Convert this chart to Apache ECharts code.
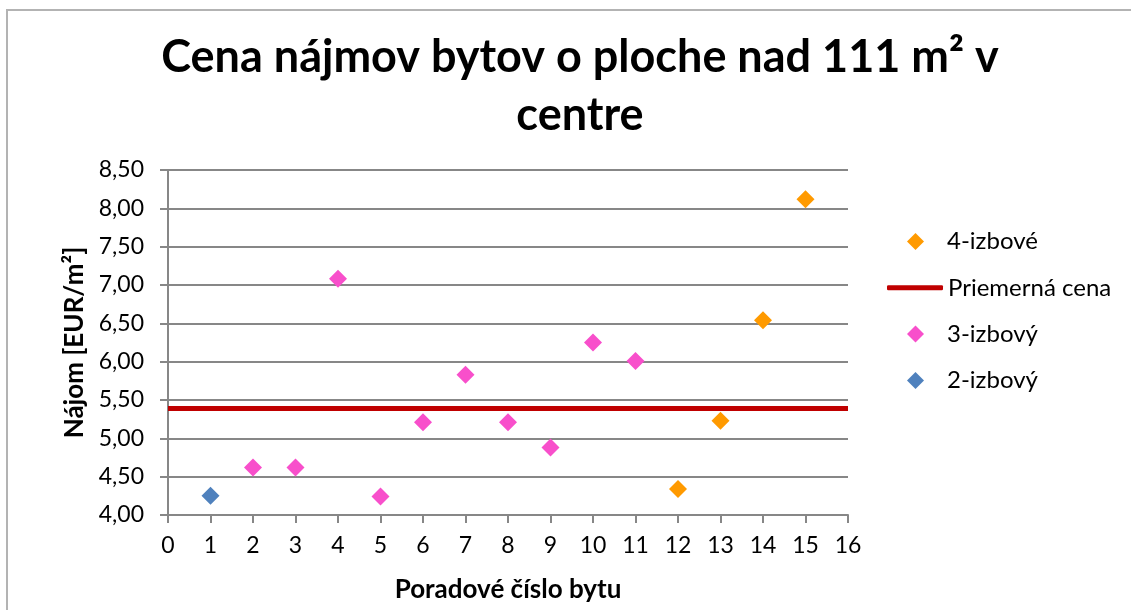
<!DOCTYPE html>
<html>
<head>
<meta charset="utf-8">
<title>Cena nájmov bytov</title>
<script src="https://cdn.jsdelivr.net/npm/echarts@6/dist/echarts.min.js"></script>
<style>
  html, body { margin: 0; padding: 0; background: #fff; }
  #chart { width: 1131px; height: 610px; }
</style>
</head>
<body>
<div id="chart"></div>
<script>
// poradové číslo bytu -> nájom [EUR/m2]
const byty2izb = [1];
const najom2izb = [4.25];
const byty3izb = [2, 3, 4, 5, 6, 7, 8, 9, 10, 11];
const najom3izb = [4.62, 4.62, 7.08, 4.24, 5.21, 5.83, 5.21, 4.88, 6.25, 6.01];
const byty4izb = [12, 13, 14, 15];
const najom4izb = [4.34, 5.23, 6.54, 8.12];
const priemernaCena = 5.39;
const xRange = [0, 16];
const legendNames = ['4-izbové', 'Priemerná cena', '3-izbový', '2-izbový'];

const pairs = (xs, ys) => xs.map((x, i) => [x, ys[i]]);
const fmt = (v) => v.toFixed(2).replace('.', ',');

const font = 'Lato, "Open Sans", sans-serif';
const axisGray = '#878787';
const legendText = { fontFamily: font, fontSize: 24, color: '#000' };

// one legend per row so the diamond and the line can have their own icon size
const legends = legendNames.map((name, i) => {
  const top = 224.5 + i * 46.3;
  if (name === 'Priemerná cena') {
    return {
      left: 882, top: top, itemWidth: 56, itemHeight: 5,
      icon: 'roundRect', textStyle: { ...legendText }, data: [name],
    };
  }
  return {
    left: 902, top: top, itemWidth: 17, itemHeight: 17,
    icon: 'diamond', textStyle: { ...legendText, padding: [0, 0, 0, 18] }, data: [name],
  };
});

const chart = echarts.init(document.getElementById('chart'));
chart.setOption({
  backgroundColor: '#fff',
  animation: false,
  textStyle: { fontFamily: font },
  graphic: [{
    type: 'rect',
    silent: true,
    shape: { x: 7, y: 10, width: 1200, height: 700 },
    style: { fill: 'none', stroke: '#b3b3b3', lineWidth: 2 },
  }],
  title: {
    text: 'Cena nájmov bytov o ploche nad 111 m² v\ncentre',
    left: 580,
    textAlign: 'center',
    top: 23,
    padding: [5, 0],
    textStyle: {
      fontFamily: font,
      fontSize: 45,
      fontWeight: 'bold',
      color: '#000',
      lineHeight: 58,
    },
  },
  legend: legends,
  grid: { left: 168, right: 283, top: 170, bottom: 95 },
  xAxis: {
    type: 'value',
    min: xRange[0],
    max: xRange[1],
    interval: 1,
    name: 'Poradové číslo bytu',
    nameLocation: 'middle',
    nameGap: 62,
    nameTextStyle: { fontFamily: font, fontSize: 26, fontWeight: 'bold', color: '#000' },
    axisLine: { show: true, lineStyle: { color: axisGray, width: 2 } },
    axisTick: { show: true, length: 8, lineStyle: { color: axisGray, width: 2 } },
    axisLabel: { margin: 19, fontFamily: font, fontSize: 23, color: '#000' },
    splitLine: { show: false },
  },
  yAxis: {
    type: 'value',
    min: 4,
    max: 8.5,
    interval: 0.5,
    name: 'Nájom [EUR/m²]',
    nameLocation: 'middle',
    nameGap: 80,
    nameTextStyle: { fontFamily: font, fontSize: 26, fontWeight: 'bold', color: '#000' },
    axisLine: { show: true, lineStyle: { color: axisGray, width: 2 } },
    axisTick: { show: true, length: 8, lineStyle: { color: axisGray, width: 2 } },
    axisLabel: { margin: 24, fontFamily: font, fontSize: 23, color: '#000', formatter: fmt },
    splitLine: { show: true, lineStyle: { color: axisGray, width: 2 } },
  },
  series: [
    {
      name: '4-izbové',
      type: 'scatter',
      symbol: 'diamond',
      symbolSize: 18,
      itemStyle: { color: '#ff9a00', opacity: 1 },
      data: pairs(byty4izb, najom4izb),
    },
    {
      name: 'Priemerná cena',
      type: 'line',
      symbol: 'none',
      lineStyle: { color: '#c00000', width: 5 },
      itemStyle: { color: '#c00000' },
      data: xRange.map((x) => [x, priemernaCena]),
    },
    {
      name: '3-izbový',
      type: 'scatter',
      symbol: 'diamond',
      symbolSize: 18,
      itemStyle: { color: '#f84fcb', opacity: 1 },
      data: pairs(byty3izb, najom3izb),
    },
    {
      name: '2-izbový',
      type: 'scatter',
      symbol: 'diamond',
      symbolSize: 18,
      itemStyle: { color: '#4f81bd', opacity: 1 },
      data: pairs(byty2izb, najom2izb),
    },
  ],
});
</script>
</body>
</html>
